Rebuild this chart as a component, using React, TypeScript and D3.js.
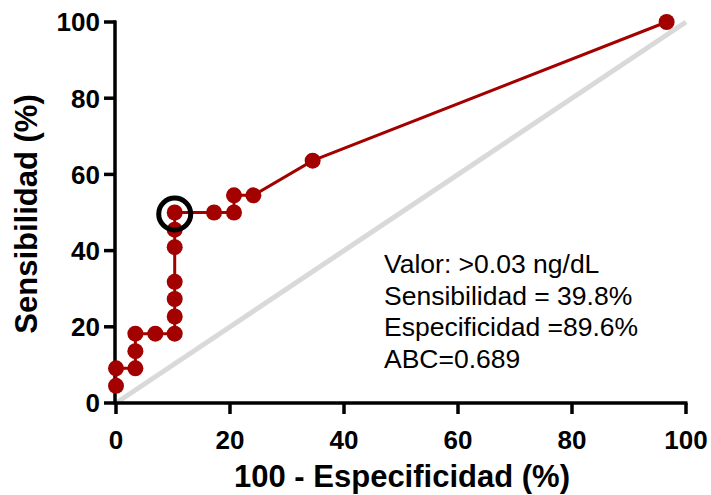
import React from "react";
import * as d3 from "d3";

const fpr: number[] = [0, 0, 3.4, 3.4, 3.4, 6.9, 10.3, 10.3, 10.3, 10.3, 10.3, 10.3, 10.3, 17.2, 20.7, 20.7, 24.1, 34.5, 96.6];
const tpr: number[] = [4.5, 9.1, 9.1, 13.6, 18.2, 18.2, 18.2, 22.7, 27.3, 31.8, 40.9, 45.5, 50.0, 50.0, 50.0, 54.5, 54.5, 63.6, 100];
const highlight = { x: 10.3, y: 50.0 };
const xTicks: number[] = [0, 20, 40, 60, 80, 100];
const yTicks: number[] = [0, 20, 40, 60, 80, 100];
const annotation: string[] = [
  "Valor: >0.03 ng/dL",
  "Sensibilidad = 39.8%",
  "Especificidad =89.6%",
  "ABC=0.689",
];
const xTitle = "100 - Especificidad (%)";
const yTitle = "Sensibilidad (%)";

const W = 711;
const H = 495;
const RED = "#a30000";
const FONT = "'Liberation Sans', Arial, Helvetica, sans-serif";

export default function App() {
  const x = d3.scaleLinear().domain([0, 100]).range([116, 686]);
  const y = d3.scaleLinear().domain([0, 100]).range([403, 22]);
  const pts = fpr.map((v, i) => [v, tpr[i]] as [number, number]);
  const line = d3
    .line<[number, number]>()
    .x((d) => x(d[0]))
    .y((d) => y(d[1]));

  return (
    <svg
      width={W}
      height={H}
      style={{ position: "absolute", left: 0, top: 0, background: "#fff" }}
      fontFamily={FONT}
    >
      <rect width={W} height={H} fill="#fff" />
      {/* reference diagonal */}
      <line
        x1={x(0)}
        y1={y(0)}
        x2={x(100)}
        y2={y(100)}
        stroke="#d9d9d9"
        strokeWidth={5}
      />
      {/* axes */}
      <line x1={x(0) - 1} y1={y(0)} x2={x(100) + 1.5} y2={y(0)} stroke="#000" strokeWidth={3.5} />
      <line x1={x(0) - 1} y1={y(0) + 1.5} x2={x(0) - 1} y2={y(100) - 1.5} stroke="#000" strokeWidth={3.5} />
      {xTicks.map((t) => (
        <g key={"xt" + t}>
          <line x1={x(t)} x2={x(t)} y1={y(0)} y2={y(0) + 11} stroke="#000" strokeWidth={3.5} />
          <text
            x={x(t)}
            y={449}
            textAnchor="middle"
            fontSize={26}
            fontWeight="bold"
            fill="#000"
          >
            {t}
          </text>
        </g>
      ))}
      {yTicks.map((t) => (
        <g key={"yt" + t}>
          <line x1={x(0) - 12} x2={x(0)} y1={y(t)} y2={y(t)} stroke="#000" strokeWidth={3.5} />
          <text
            x={100}
            y={y(t)}
            dy="0.36em"
            textAnchor="end"
            fontSize={26}
            fontWeight="bold"
            fill="#000"
          >
            {t}
          </text>
        </g>
      ))}
      <text x={402} y={487} textAnchor="middle" fontSize={31} fontWeight="bold" fill="#000">
        {xTitle}
      </text>
      <text
        transform={`translate(37,214) rotate(-90)`}
        textAnchor="middle"
        fontSize={31}
        fontWeight="bold"
        fill="#000"
      >
        {yTitle}
      </text>
      {/* ROC curve */}
      <path d={line(pts) || ""} fill="none" stroke={RED} strokeWidth={3} />
      {pts.map((p, i) => (
        <circle key={"p" + i} cx={x(p[0])} cy={y(p[1])} r={8} fill={RED} />
      ))}
      <circle
        cx={x(highlight.x)}
        cy={y(highlight.y) + 1.5}
        r={16}
        fill="none"
        stroke="#000"
        strokeWidth={5}
      />
      {annotation.map((s, i) => (
        <text key={"a" + i} x={384} y={273 + i * 31.5} fontSize={26.5} fill="#000">
          {s}
        </text>
      ))}
    </svg>
  );
}
